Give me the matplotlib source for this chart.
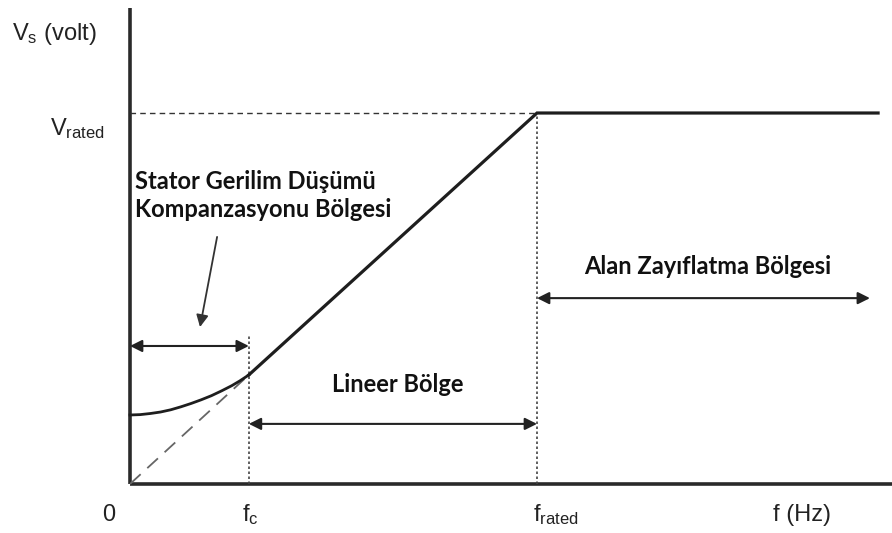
import matplotlib
matplotlib.use("Agg")
import matplotlib.pyplot as plt

plt.rcParams['font.family'] = ['Liberation Sans', 'DejaVu Sans']
plt.rcParams['mathtext.fontset'] = 'custom'
plt.rcParams['mathtext.rm'] = 'Liberation Sans'
plt.rcParams['mathtext.it'] = 'Liberation Sans'

# per-unit values (f / f_rated, V / V_rated)
f_c = 0.292
f_rated = 1.0
f_end = 1.838
v_rated = 1.0
v_c = 0.294

# low-frequency boost curve (stator voltage drop compensation)
boost_f = [0, 0.025, 0.05, 0.075, 0.10, 0.125, 0.15, 0.175, 0.20, 0.225, 0.25, 0.27, 0.292]
boost_v = [0.186, 0.187, 0.190, 0.194, 0.200, 0.208, 0.217, 0.227, 0.238, 0.251, 0.265, 0.278, 0.294]

# linear V/f region + field weakening
main_f = [f_c, f_rated, f_end]
main_v = [v_c, v_rated, v_rated]

# double arrow spans: (start, end, height)
arrows = [
    (0.0, f_c, 0.372),
    (f_c, f_rated, 0.162),
    (f_rated, 1.818, 0.501),
]
# (text, x, y, horizontal alignment)
region_labels = [
    ("Stator Gerilim Düşümü\nKompanzasyonu Bölgesi", 0.012, 0.778, 'left'),
    ("Lineer Bölge", 0.658, 0.267, 'center'),
    ("Alan Zayıflatma Bölgesi", 1.420, 0.585, 'center'),
]
# x-axis labels, left edge positions
tick_labels = [
    ("0", -0.069),
    ("f$_\\mathrm{c}$", 0.275),
    ("f$_\\mathrm{rated}$", 0.990),
    ("f (Hz)", 1.580),
]

fig = plt.figure(figsize=(8.92, 5.33), dpi=100)
ax = fig.add_axes([0, 0, 1, 1])
ax.set_xlim(-0.3194, 1.8722)
ax.set_ylim(-0.1321, 1.3046)
ax.axis('off')

lc = '#1e1e1e'
# axes
ax.plot([0, 0], [0, 1.283], color='#2a2a2a', lw=2.6, solid_capstyle='butt')
ax.plot([0, 1.8722], [0, 0], color='#2a2a2a', lw=2.6, solid_capstyle='butt')

# guides
ax.plot([0, f_rated], [v_rated, v_rated], color='#333333', lw=1.0, ls=(0, (4, 3)))
ax.plot([f_c, f_c], [0, 0.40], color='#444444', lw=1.2, ls=(0, (1.5, 1.5)))
ax.plot([f_rated, f_rated], [0, v_rated], color='#444444', lw=1.2, ls=(0, (1.5, 1.5)))
ax.plot([0, f_c], [0, v_c], color='#666666', lw=1.3, ls=(0, (8, 5)))

# curves
ax.plot(boost_f, boost_v, color=lc, lw=2.0)
ax.plot(main_f, main_v, color=lc, lw=2.3, solid_joinstyle='miter')

for x0, x1, y in arrows:
    ax.annotate('', xy=(x1, y), xytext=(x0, y),
                arrowprops=dict(arrowstyle='<|-|>', color='#222222', lw=1.5,
                                mutation_scale=18, shrinkA=0, shrinkB=0))

# pointer to compensation region
ax.annotate('', xy=(0.172, 0.423), xytext=(0.214, 0.666),
            arrowprops=dict(arrowstyle='-|>', color='#333333', lw=1.3,
                            mutation_scale=18, shrinkA=0, shrinkB=0))

for txt, x, y, ha in region_labels:
    ax.text(x, y, txt, ha=ha, va='center', fontsize=17, fontweight='bold',
            family=['Lato', 'DejaVu Sans'], color='#111111', linespacing=1.3)

for txt, x in tick_labels:
    ax.text(x, -0.10, txt, ha='left', va='baseline', fontsize=17, color='#222222')

ax.text(-0.290, 1.198, "V$_\\mathrm{s}$ (volt)", ha='left', va='baseline', fontsize=17, color='#222222')
ax.text(-0.197, 0.941, "V$_\\mathrm{rated}$", ha='left', va='baseline', fontsize=17, color='#222222')

fig.savefig('out.png', dpi=100)
